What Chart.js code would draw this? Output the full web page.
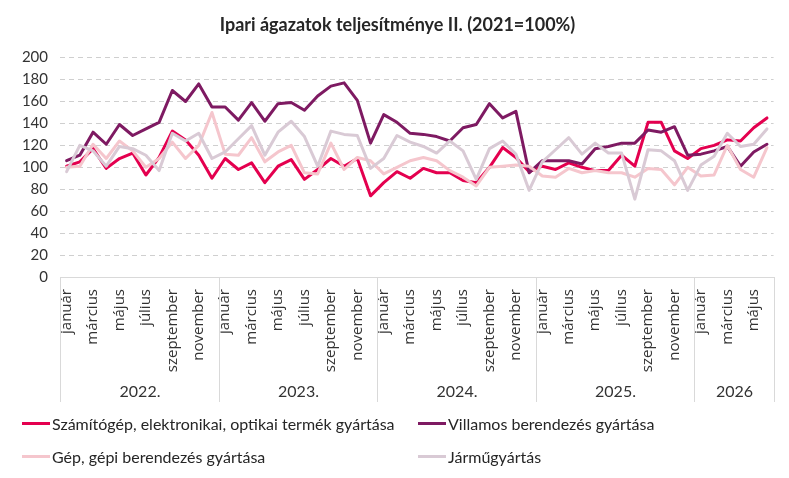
<!DOCTYPE html>
<html>
<head>
<meta charset="utf-8">
<script src="https://cdn.jsdelivr.net/npm/chart.js@4.4.1/dist/chart.umd.min.js"></script>
<style>
  body { margin: 0; background: #fff; font-family: Lato, sans-serif; }
  #wrap { position: relative; width: 789px; height: 478px; }
  #legend { position: absolute; left: 0; top: 0; width: 789px; height: 478px; pointer-events: none; }
  .item { position: absolute; display: flex; align-items: center; font-size: 16px; color: #262626; white-space: nowrap; }
  .swatch { width: 28px; height: 3px; margin-right: 2px; }
</style>
</head>
<body>
<div id="wrap">
  <canvas id="chart" width="789" height="410"></canvas>
  <div id="legend"></div>
</div>
<script>
  // month names (every month of a year), year groups and how many months each has
  const monthNames = ['január', 'február', 'március', 'április', 'május', 'június',
    'július', 'augusztus', 'szeptember', 'október', 'november', 'december'];
  const years = ['2022.', '2023.', '2024.', '2025.', '2026'];
  const yearSpans = [12, 12, 12, 12, 6];
  const yTicks = [0, 20, 40, 60, 80, 100, 120, 140, 160, 180, 200];

  // series, 2022 jan .. 2026 jún (2021=100)
  const computer = [
    101, 105, 117, 99, 108, 113, 93, 109, 133, 125, 111, 90,
    108, 98, 104, 86, 101, 107, 89, 98, 108, 101, 108, 74,
    86, 96, 90, 99, 95, 95, 88, 86, 100, 118, 109, 96,
    101, 98, 104, 100, 97, 97, 111, 101, 141, 141, 115, 108,
    117, 120, 125, 124, 136, 145
  ];
  const electric = [
    106, 111, 132, 121, 139, 129, 135, 141, 170, 160, 176, 155,
    155, 143, 159, 142, 158, 159, 152, 165, 174, 177, 161, 122,
    148, 141, 131, 130, 128, 124, 136, 139, 158, 145, 151, 95,
    106, 106, 106, 103, 117, 119, 122, 122, 134, 132, 137, 111,
    112, 115, 119, 101, 114, 121
  ];
  const machinery = [
    100, 101, 121, 108, 124, 115, 100, 108, 123, 108, 120, 150,
    112, 111, 127, 105, 114, 120, 95, 94, 122, 98, 109, 106,
    94, 100, 106, 109, 106, 97, 91, 83, 100, 101, 102, 101,
    92, 91, 99, 95, 97, 95, 95, 91, 99, 98, 84, 100,
    92, 93, 120, 98, 91, 118
  ];
  const vehicles = [
    96, 120, 115, 101, 119, 117, 111, 97, 131, 124, 131, 108,
    114, 126, 138, 111, 132, 142, 128, 101, 133, 130, 129, 99,
    108, 129, 123, 119, 113, 124, 115, 89, 117, 124, 112, 79,
    105, 116, 127, 112, 122, 113, 113, 71, 116, 115, 106, 79,
    102, 110, 131, 119, 121, 135
  ];

  const labels = [];
  yearSpans.forEach(n => { for (let m = 0; m < n; m++) labels.push(monthNames[m]); });

  const series = [
    { label: 'Számítógép, elektronikai, optikai termék gyártása', data: computer, color: '#E4004F', order: 3 },
    { label: 'Villamos berendezés gyártása', data: electric, color: '#7E1A62', order: 2 },
    { label: 'Gép, gépi berendezés gyártása', data: machinery, color: '#F5C6CD', order: 1 },
    { label: 'Járműgyártás', data: vehicles, color: '#D9CAD5', order: 0 }
  ];

  // year row under the month labels
  const yearGroups = {
    id: 'yearGroups',
    afterDraw(chart) {
      const ctx = chart.ctx;
      const x = chart.scales.x;
      const area = chart.chartArea;
      const half = (x.getPixelForValue(1) - x.getPixelForValue(0)) / 2;
      const bottom = 402;
      ctx.save();
      ctx.strokeStyle = '#d9d9d9';
      ctx.lineWidth = 1;
      ctx.font = '16px Lato';
      ctx.fillStyle = '#333';
      ctx.textAlign = 'center';
      ctx.textBaseline = 'middle';
      let start = 0;
      yearSpans.forEach((n, k) => {
        const left = Math.round(x.getPixelForValue(start) - half) + 0.5;
        const right = Math.round(x.getPixelForValue(start + n - 1) + half) + 0.5;
        ctx.beginPath();
        ctx.moveTo(left, area.bottom);
        ctx.lineTo(left, bottom);
        if (k === yearSpans.length - 1) {
          ctx.moveTo(right, area.bottom);
          ctx.lineTo(right, bottom);
        }
        ctx.stroke();
        ctx.fillText(years[k], (left + right) / 2, 392);
        start += n;
      });
      ctx.restore();
    }
  };

  new Chart(document.getElementById('chart'), {
    type: 'line',
    data: {
      labels: labels,
      datasets: series.map(s => ({
        label: s.label,
        data: s.data,
        borderColor: s.color,
        backgroundColor: s.color,
        borderWidth: 3,
        pointRadius: 0,
        tension: 0,
        borderJoinStyle: 'round',
        borderCapStyle: 'round',
        order: s.order
      }))
    },
    options: {
      responsive: false,
      animation: false,
      layout: { padding: { left: 10, right: 4, top: 0, bottom: 5 } },
      plugins: {
        legend: { display: false },
        tooltip: { enabled: false },
        title: {
          display: true,
          text: 'Ipari ágazatok teljesítménye II. (2021=100%)',
          color: '#262626',
          font: { family: 'Lato', size: 18, weight: 'bold' },
          padding: { top: 14, bottom: 22 }
        }
      },
      scales: {
        x: {
          offset: true,
          grid: { display: false },
          border: { display: true, color: '#d9d9d9' },
          afterFit: function (scale) { scale.height = 128; },
          ticks: {
            autoSkip: false,
            maxRotation: 90,
            minRotation: 90,
            padding: 4,
            color: '#333',
            font: { family: 'Open Sans', size: 15 },
            callback: function (val, i) {
              return i % 2 === 0 ? this.getLabelForValue(val) : '';
            }
          }
        },
        y: {
          min: 0,
          max: 200,
          afterFit: function (scale) { scale.width = 50; },
          afterBuildTicks: function (scale) { scale.ticks = yTicks.map(v => ({ value: v })); },
          grid: { color: '#cfcfcf', drawTicks: false, lineWidth: 1 },
          border: { display: false, dash: [5, 4] },
          ticks: {
            autoSkip: false,
            padding: 12,
            color: '#333',
            font: { family: 'Lato', size: 15 }
          }
        }
      }
    },
    plugins: [yearGroups]
  });

  // legend in two aligned columns
  const legendPos = [[22, 425], [418, 425], [22, 458], [418, 458]];
  const legend = document.getElementById('legend');
  series.forEach((s, i) => {
    const item = document.createElement('div');
    item.className = 'item';
    item.style.left = legendPos[i][0] + 'px';
    item.style.top = (legendPos[i][1] - 11) + 'px';
    item.innerHTML = '<span class="swatch" style="background:' + s.color + '"></span>' + s.label;
    legend.appendChild(item);
  });
</script>
</body>
</html>
